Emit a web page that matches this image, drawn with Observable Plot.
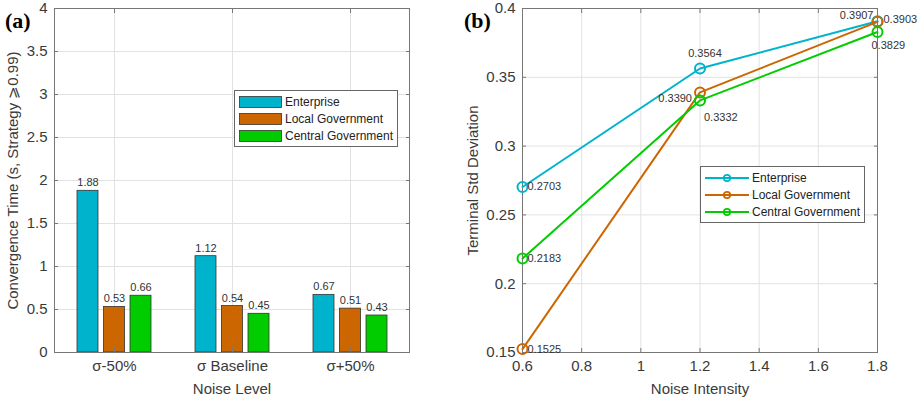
<!DOCTYPE html>
<html>
<head>
<meta charset="utf-8">
<script src="https://cdn.jsdelivr.net/npm/d3@7"></script>
<script src="https://cdn.jsdelivr.net/npm/@observablehq/plot@0.6"></script>
<style>
  body { margin: 0; background: #fff; }
  #wrap { position: relative; width: 920px; height: 400px; font-family: "Liberation Sans", Arial, sans-serif; color: #333; }
  #wrap svg { position: absolute; top: 0; }
  .tag { position: absolute; font: bold 22px "Liberation Serif", "Times New Roman", serif; color: #000; }
  .legend { position: absolute; background: #fff; border: 1px solid #666; font-size: 12px; color: #222; padding: 2px 4px 2px 4px; }
  .legend div { display: flex; align-items: center; height: 17px; white-space: nowrap; }
  .legend svg { position: static !important; margin-right: 3px; }
</style>
</head>
<body>
<div id="wrap"></div>
<script>
// panel (a): convergence time per noise level
const groups = ["σ-50%", "σ Baseline", "σ+50%"];
const series = ["Enterprise", "Local Government", "Central Government"];
const convEnterprise = [1.88, 1.12, 0.67];
const convLocal = [0.53, 0.54, 0.51];
const convCentral = [0.66, 0.45, 0.43];
const yTicksA = [0, 0.5, 1, 1.5, 2, 2.5, 3, 3.5, 4];

// panel (b): terminal std deviation vs noise intensity
const noise = [0.6, 1.2, 1.8];
const stdEnterprise = [0.2703, 0.3564, 0.3907];
const stdLocal = [0.1525, 0.3390, 0.3903];
const stdCentral = [0.2183, 0.3332, 0.3829];
const xTicksB = [0.6, 0.8, 1, 1.2, 1.4, 1.6, 1.8];
const yTicksB = [0.15, 0.2, 0.25, 0.3, 0.35, 0.4];

const colors = ["#00B3CC", "#CC6600", "#00CC00"];

const convAll = [convEnterprise, convLocal, convCentral];
const bars = groups.flatMap((g, i) => series.map((s, j) => ({group: g, series: s, value: convAll[j][i]})));

const stdAll = [stdEnterprise, stdLocal, stdCentral];
const points = series.flatMap((s, j) => noise.map((x, i) => ({series: s, x, y: stdAll[j][i]})));

const font = {fontFamily: "Liberation Sans, Arial, sans-serif"};
const gridColor = "#e2e2e2";
const fmt = d => String(d);
const blank = () => "";

// MATLAB-style inward ticks on all four sides
const inwardTicks = (xt, yt) => [
  Plot.axisY(yt, {anchor: "left", tickSize: -4, tickFormat: blank, label: null, stroke: "#777"}),
  Plot.axisY(yt, {anchor: "right", tickSize: -4, tickFormat: blank, label: null, stroke: "#777"}),
  Plot.axisX(xt, {anchor: "bottom", tickSize: -4, tickFormat: blank, label: null, stroke: "#777"}),
  Plot.axisX(xt, {anchor: "top", tickSize: -4, tickFormat: blank, label: null, stroke: "#777"})
];

// bars sit side by side inside each band
const barOffsets = [-26.5, 0, 26.5];
const barInset = 48.5;

const chartA = Plot.plot({
  width: 460,
  height: 400,
  marginLeft: 54,
  marginRight: 51,
  marginTop: 8,
  marginBottom: 48,
  style: {fontSize: "15px", color: "#3a3a3a", ...font},
  x: {type: "band", domain: groups, padding: 0},
  y: {domain: [0, 4]},
  color: {domain: series, range: colors},
  marks: [
    Plot.gridY(yTicksA, {stroke: gridColor, strokeOpacity: 1}),
    Plot.gridX(groups, {stroke: gridColor, strokeOpacity: 1}),
    ...series.map((s, j) => Plot.barY(bars, {
      filter: d => d.series === s, x: "group", y: "value", fill: "series",
      stroke: "#333", strokeWidth: 0.8, insetLeft: barInset, insetRight: barInset, dx: barOffsets[j]
    })),
    ...series.map((s, j) => Plot.text(bars, {
      filter: d => d.series === s, x: "group", y: "value", text: d => d.value.toFixed(2),
      dx: barOffsets[j], dy: -8, fontSize: 11, fill: "#333"
    })),
    Plot.frame({stroke: "#777"}),
    ...inwardTicks(groups, yTicksA),
    Plot.axisY(yTicksA, {tickSize: 0, tickPadding: 7, tickFormat: fmt, fontSize: 15,
      label: "Convergence Time (s, Strategy ⩾0.99)", labelAnchor: "center", labelArrow: "none", labelOffset: 47}),
    Plot.axisX(groups, {tickSize: 0, tickPadding: 8, fontSize: 15,
      label: "Noise Level", labelAnchor: "center", labelArrow: "none", labelOffset: 41})
  ]
});

const label = (s, x, opts) => Plot.text(points, {
  filter: d => d.series === s && d.x === x, x: "x", y: "y", text: d => d.y.toFixed(4),
  fontSize: 11, fill: "#333", ...opts
});

const chartB = Plot.plot({
  width: 460,
  height: 400,
  marginLeft: 62,
  marginRight: 43,
  marginTop: 8,
  marginBottom: 48,
  style: {fontSize: "15px", color: "#3a3a3a", ...font},
  x: {domain: [0.6, 1.8]},
  y: {domain: [0.15, 0.4]},
  color: {domain: series, range: colors},
  marks: [
    Plot.gridY(yTicksB, {stroke: gridColor, strokeOpacity: 1}),
    Plot.gridX(xTicksB, {stroke: gridColor, strokeOpacity: 1}),
    Plot.frame({stroke: "#777"}),
    ...inwardTicks(xTicksB, yTicksB),
    Plot.line(points, {x: "x", y: "y", z: "series", stroke: "series", strokeWidth: 2}),
    Plot.dot(points, {x: "x", y: "y", stroke: "series", r: 5, strokeWidth: 2, fill: "none"}),
    Plot.text(points, {filter: d => d.x === noise[0], x: "x", y: "y", text: d => d.y.toFixed(4),
      textAnchor: "start", dx: 5, fontSize: 11, fill: "#333"}),
    label("Enterprise", noise[1], {dx: 5, dy: -15}),
    label("Local Government", noise[1], {textAnchor: "end", dx: -8, dy: 6}),
    label("Central Government", noise[1], {textAnchor: "start", dx: 4, dy: 17}),
    label("Enterprise", noise[2], {textAnchor: "end", dx: -4, dy: -6}),
    label("Local Government", noise[2], {textAnchor: "start", dx: 6, dy: -2}),
    label("Central Government", noise[2], {textAnchor: "start", dx: -6, dy: 13}),
    Plot.axisY(yTicksB, {tickSize: 0, tickPadding: 7, tickFormat: fmt, fontSize: 15,
      label: "Terminal Std Deviation", labelAnchor: "center", labelArrow: "none", labelOffset: 55}),
    Plot.axisX(xTicksB, {tickSize: 0, tickPadding: 8, tickFormat: fmt, fontSize: 15,
      label: "Noise Intensity", labelAnchor: "center", labelArrow: "none", labelOffset: 41})
  ]
});

const wrap = d3.select("#wrap");
wrap.append(() => chartA).style("left", "0px");
wrap.append(() => chartB).style("left", "460px");

wrap.append("div").attr("class", "tag").style("left", "5px").style("top", "8px").text("(a)");
wrap.append("div").attr("class", "tag").style("left", "464px").style("top", "8px").text("(b)");

// legend (a): filled swatches
const legA = wrap.append("div").attr("class", "legend").style("left", "234px").style("top", "90px");
series.forEach((s, j) => {
  const row = legA.append("div");
  row.append("svg").attr("width", 43).attr("height", 12)
    .append("rect").attr("x", 0.5).attr("y", 0.5).attr("width", 42).attr("height", 11)
    .attr("fill", colors[j]).attr("stroke", "#333").attr("stroke-width", 0.8);
  row.append("span").text(s);
});

// legend (b): line + marker samples
const legB = wrap.append("div").attr("class", "legend").style("left", "700px").style("top", "166px");
series.forEach((s, j) => {
  const row = legB.append("div");
  const sv = row.append("svg").attr("width", 44).attr("height", 12);
  sv.append("line").attr("x1", 0).attr("x2", 44).attr("y1", 6).attr("y2", 6)
    .attr("stroke", colors[j]).attr("stroke-width", 2);
  sv.append("circle").attr("cx", 22).attr("cy", 6).attr("r", 3.2)
    .attr("fill", "none").attr("stroke", colors[j]).attr("stroke-width", 1.8);
  row.append("span").text(s);
});
</script>
</body>
</html>
